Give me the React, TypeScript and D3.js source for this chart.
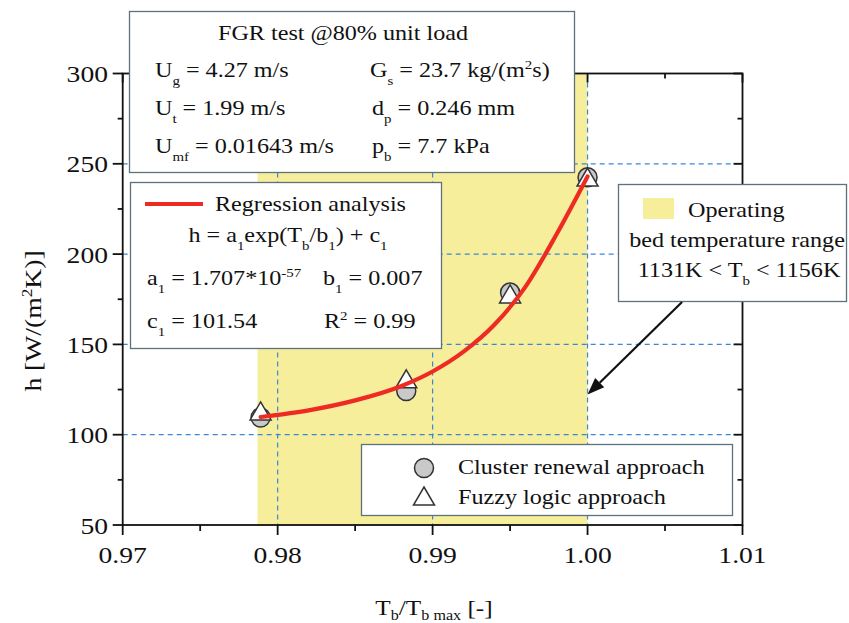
import React from "react";
import * as d3 from "d3";

// ---------- data ----------
const clusterT = [0.9789, 0.9883, 0.995, 1.0];
const clusterH = [109.5, 124.2, 178.7, 242.5];
const fuzzyT = [0.9789, 0.9883, 0.995, 1.0];
const fuzzyH = [111.5, 129.3, 176.3, 241.0];
const fitT = [0.9789, 0.982, 0.985, 0.988, 0.99, 0.992, 0.994, 0.996, 0.998, 1.0];
const fitH = [109.8, 113.5, 119, 127, 135, 146, 161, 182, 211, 243];
const rangeT = [0.9787, 1.0];
const xMajor = [0.97, 0.98, 0.99, 1.0, 1.01];
const xTickLabels = ["0.97", "0.98", "0.99", "1.00", "1.01"];
const xMinor = [0.975, 0.985, 0.995, 1.005];
const yMajor = [50, 100, 150, 200, 250, 300];
const yTickLabels = ["50", "100", "150", "200", "250", "300"];
const yMinor = [75, 125, 175, 225, 275];
const gridX = [0.98, 0.99, 1.0];
const gridY = [100, 150, 200, 250];
const arrowFrom = [1.0061, 173.5];
const arrowTo = [1.0, 122.2];

const FONT = '"Liberation Serif", "Times New Roman", Times, serif';
const SX = 1.15;

function T({ x, y, anchor = "start", size = 21, rotate = 0, children }: any) {
  return (
    <g transform={`translate(${x},${y}) rotate(${rotate}) scale(${SX},1)`}>
      <text x={0} y={0} fontSize={size} textAnchor={anchor} fontFamily={FONT} fill="#111">
        {children}
      </text>
    </g>
  );
}

const Sub = ({ t, d = 8, s = 13 }: any) => (
  <tspan fontSize={s} dy={d}>
    {t}
  </tspan>
);

export default function App() {
  const x = d3.scaleLinear().domain([0.97, 1.01]).range([122.7, 742.5]);
  const y = d3.scaleLinear().domain([50, 300]).range([525, 73.5]);
  const [x0, x1] = x.range();
  const [y0, y1] = y.range();

  const line = d3
    .line<number>()
    .x((_, i) => x(fitT[i]))
    .y((d) => y(d))
    .curve(d3.curveMonotoneX);

  const triH = 18;
  const triW = 21;
  const triPath = `M0,${(-2 * triH) / 3} L${triW / 2},${triH / 3} L${-triW / 2},${triH / 3} Z`;

  const ax1 = x(arrowFrom[0]);
  const ay1 = y(arrowFrom[1]);
  const ax2 = x(arrowTo[0]);
  const ay2 = y(arrowTo[1]);
  const ang = Math.atan2(ay2 - ay1, ax2 - ax1);
  const hl = 17;
  const hw = 6.5;
  const bx = ax2 - hl * Math.cos(ang);
  const by = ay2 - hl * Math.sin(ang);
  const px = -Math.sin(ang) * hw;
  const py = Math.cos(ang) * hw;

  const boxStroke = "#5d727a";
  const blue = "#3b86d8";

  return (
    <svg
      width={849}
      height={623}
      style={{ position: "absolute", left: 0, top: 0, background: "#fff" }}
      fontFamily={FONT}
    >
      <rect x={0} y={0} width={849} height={623} fill="#fff" />
      {/* operating range */}
      <rect
        x={x(rangeT[0])}
        y={y1}
        width={x(rangeT[1]) - x(rangeT[0])}
        height={y0 - y1}
        fill="#f7ee9c"
      />
      {/* grid */}
      {gridY.map((v) => (
        <line key={"gy" + v} x1={x0} x2={x1} y1={y(v)} y2={y(v)} stroke={blue} strokeWidth={1.2} strokeDasharray="5,4" />
      ))}
      {gridX.map((v) => (
        <line key={"gx" + v} x1={x(v)} x2={x(v)} y1={y1} y2={y0} stroke={blue} strokeWidth={1.2} strokeDasharray="5,4" />
      ))}
      {/* frame */}
      <rect x={x0} y={y1} width={x1 - x0} height={y0 - y1} fill="none" stroke="#111" strokeWidth={1.8} />
      {/* x ticks */}
      {xMajor.map((v, i) => (
        <g key={"xm" + v}>
          <line x1={x(v)} x2={x(v)} y1={y0} y2={y0 + 10} stroke="#111" strokeWidth={1.8} />
          <line x1={x(v)} x2={x(v)} y1={y1} y2={y1 + 9} stroke="#111" strokeWidth={1.8} />
          <T x={x(v)} y={563} anchor="middle" size={24}>
            {xTickLabels[i]}
          </T>
        </g>
      ))}
      {xMinor.map((v) => (
        <g key={"xn" + v}>
          <line x1={x(v)} x2={x(v)} y1={y0} y2={y0 + 6} stroke="#111" strokeWidth={1.8} />
          <line x1={x(v)} x2={x(v)} y1={y1} y2={y1 + 5} stroke="#111" strokeWidth={1.8} />
        </g>
      ))}
      {/* y ticks */}
      {yMajor.map((v, i) => (
        <g key={"ym" + v}>
          <line x1={x0 - 10} x2={x0} y1={y(v)} y2={y(v)} stroke="#111" strokeWidth={1.8} />
          <line x1={x1 - 9} x2={x1} y1={y(v)} y2={y(v)} stroke="#111" strokeWidth={1.8} />
          <T x={108} y={y(v) + 8.5} anchor="end" size={24}>
            {yTickLabels[i]}
          </T>
        </g>
      ))}
      {yMinor.map((v) => (
        <g key={"yn" + v}>
          <line x1={x0 - 5} x2={x0} y1={y(v)} y2={y(v)} stroke="#111" strokeWidth={1.8} />
          <line x1={x1 - 5} x2={x1} y1={y(v)} y2={y(v)} stroke="#111" strokeWidth={1.8} />
        </g>
      ))}
      {/* axis titles */}
      <T x={434} y={615} anchor="middle" size={22}>
        T<Sub t="b" d={5} s={14} />
        <tspan dy={-5}>/T</tspan>
        <Sub t="b max" d={5} s={14} />
        <tspan dy={-5}> [-]</tspan>
      </T>
      <T x={41} y={321} anchor="middle" size={24} rotate={-90}>
        h [W/(m
        <tspan fontSize={15} dy={-9}>
          2
        </tspan>
        <tspan dy={9}>K)]</tspan>
      </T>
      {/* markers */}
      {clusterT.map((t, i) => (
        <circle key={"c" + i} cx={x(t)} cy={y(clusterH[i])} r={9.5} fill="#c9c9c9" stroke="#333" strokeWidth={1.5} />
      ))}
      {fuzzyT.map((t, i) => (
        <path
          key={"f" + i}
          d={triPath}
          transform={`translate(${x(t)},${y(fuzzyH[i])})`}
          fill="#fff"
          stroke="#333"
          strokeWidth={1.5}
        />
      ))}
      {/* regression */}
      <path d={line(fitH) || ""} fill="none" stroke="#ee2b22" strokeWidth={4.2} strokeLinecap="round" />

      {/* box 1 */}
      <rect x={129.5} y={11.5} width={445} height={161} fill="#fff" stroke={boxStroke} strokeWidth={1.3} />
      <T x={218} y={40}>FGR test @80% unit load</T>
      <T x={155} y={77}>
        U<Sub t="g" />
        <tspan dy={-8}> = 4.27 m/s</tspan>
      </T>
      <T x={370} y={77}>
        G<Sub t="s" />
        <tspan dy={-8}> = 23.7 kg/(m</tspan>
        <tspan fontSize={13} dy={-8}>
          2
        </tspan>
        <tspan dy={8}>s)</tspan>
      </T>
      <T x={155} y={115}>
        U<Sub t="t" />
        <tspan dy={-8}> = 1.99 m/s</tspan>
      </T>
      <T x={372} y={115}>
        d<Sub t="p" />
        <tspan dy={-8}> = 0.246 mm</tspan>
      </T>
      <T x={155} y={153}>
        U<Sub t="mf" />
        <tspan dy={-8}> = 0.01643 m/s</tspan>
      </T>
      <T x={372} y={153}>
        p<Sub t="b" />
        <tspan dy={-8}> = 7.7 kPa</tspan>
      </T>

      {/* box 2 */}
      <rect x={130.5} y={182.5} width={311} height={166} fill="#fff" stroke={boxStroke} strokeWidth={1.3} />
      <line x1={145} x2={203} y1={204} y2={204} stroke="#ee2b22" strokeWidth={4.2} />
      <T x={215} y={211}>Regression analysis</T>
      <T x={288} y={242} anchor="middle">
        h = a<Sub t="1" />
        <tspan dy={-8}>exp(T</tspan>
        <Sub t="b" />
        <tspan dy={-8}>/b</tspan>
        <Sub t="1" />
        <tspan dy={-8}>) + c</tspan>
        <Sub t="1" />
      </T>
      <T x={147} y={285}>
        a<Sub t="1" />
        <tspan dy={-8}> = 1.707*10</tspan>
        <tspan fontSize={13} dy={-8}>
          -57
        </tspan>
      </T>
      <T x={323} y={285}>
        b<Sub t="1" />
        <tspan dy={-8}> = 0.007</tspan>
      </T>
      <T x={147} y={328}>
        c<Sub t="1" />
        <tspan dy={-8}> = 101.54</tspan>
      </T>
      <T x={324} y={328}>
        R<tspan fontSize={13} dy={-8}>2</tspan>
        <tspan dy={8}> = 0.99</tspan>
      </T>

      {/* box 3 */}
      <rect x={618.5} y={184.5} width={228} height={117} fill="#fff" stroke={boxStroke} strokeWidth={1.3} />
      <rect x={643} y={198} width={31} height={21} fill="#f7ee9c" />
      <T x={688} y={217}>Operating</T>
      <T x={737} y={247} anchor="middle">bed temperature range</T>
      <T x={739} y={277} anchor="middle">
        1131K &lt; T<Sub t="b" />
        <tspan dy={-8}> &lt; 1156K</tspan>
      </T>
      {/* arrow */}
      <line x1={ax1} y1={ay1} x2={bx} y2={by} stroke="#111" strokeWidth={2.2} />
      <path d={`M${ax2},${ay2} L${bx + px},${by + py} L${bx - px},${by - py} Z`} fill="#111" />

      {/* legend */}
      <rect x={361.5} y={444.5} width={371} height={71} fill="#fff" stroke={boxStroke} strokeWidth={1.3} />
      <circle cx={424} cy={468} r={9.5} fill="#c9c9c9" stroke="#333" strokeWidth={1.5} />
      <path d={triPath} transform="translate(424,499)" fill="#fff" stroke="#333" strokeWidth={1.5} />
      <T x={458} y={474}>Cluster renewal approach</T>
      <T x={458} y={504}>Fuzzy logic approach</T>
    </svg>
  );
}
